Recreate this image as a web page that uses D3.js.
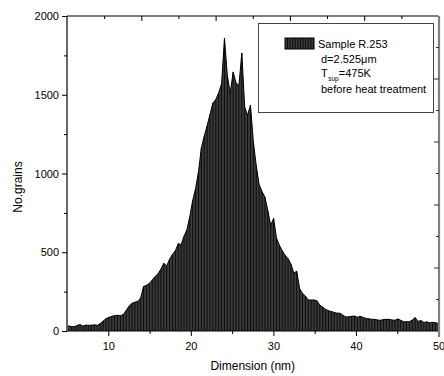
<!DOCTYPE html>
<html>
<head>
<meta charset="utf-8">
<script src="https://cdn.jsdelivr.net/npm/d3@7"></script>
<style>
  body { margin: 0; background: #fff; }
  svg { display: block; font-family: 'Liberation Sans', Arial, sans-serif; }
</style>
</head>
<body>
<div id="chart"></div>
<script>
// histogram bins (nm)
const binStart = 5;
const binWidth = 0.35;
const counts = [
  33, 28, 27, 35, 41, 31, 37, 36, 37, 39,
  36, 47, 63, 78, 87, 93, 98, 100, 97, 105,
  131, 158, 176, 183, 188, 210, 283, 290, 302, 324,
  346, 363, 393, 430, 413, 456, 486, 509, 555, 548,
  602, 643, 726, 829, 905, 1010, 1163, 1237, 1304, 1376,
  1448, 1470, 1513, 1570, 1860, 1620, 1510, 1645, 1575, 1560,
  1765, 1420, 1370, 1435, 1200, 1050, 930, 885, 850, 765,
  670, 716, 590, 545, 510, 480, 460, 425, 368, 380,
  270, 239, 222, 197, 197, 197, 192, 164, 152, 137,
  129, 124, 118, 113, 113, 100, 89, 90, 93, 95,
  87, 93, 86, 80, 77, 74, 74, 70, 68, 73,
  74, 74, 70, 68, 77, 68, 59, 59, 59, 70,
  85, 61, 66, 54, 58, 52, 55, 53, 48
];
const xDomain = [5, 50];
const yDomain = [0, 2000];
const xTicks = [10, 20, 30, 40, 50];
const xMinorTicks = [15, 25, 35, 45];
const yTicks = [0, 500, 1000, 1500, 2000];
const yMinorTicks = [250, 750, 1250, 1750];
const legendLines = ['Sample R.253', 'd=2.525\u03bcm', 'T', 'before heat treatment'];

const width = 444, height = 376;
const plot = { left: 67, right: 438.5, top: 16, bottom: 331 };

const svg = d3.select('#chart').append('svg')
  .attr('width', width)
  .attr('height', height);

const x = d3.scaleLinear().domain(xDomain).range([plot.left, plot.right]);
const y = d3.scaleLinear().domain(yDomain).range([plot.bottom, plot.top]);

const points = counts.map((c, i) => ({ d: binStart + (i + 0.5) * binWidth, c: c }));

svg.append('clipPath').attr('id', 'clip')
  .append('rect')
  .attr('x', plot.left).attr('y', plot.top - 5)
  .attr('width', plot.right - plot.left).attr('height', plot.bottom - plot.top + 5);

const g = svg.append('g').attr('clip-path', 'url(#clip)');

// filled area
const area = d3.area()
  .x(d => x(d.d))
  .y0(y(0))
  .y1(d => y(d.c));

g.append('path')
  .datum(points)
  .attr('d', area)
  .attr('fill', '#3a3a3a');

// drop lines
g.selectAll('.drop')
  .data(points)
  .enter()
  .append('line')
  .attr('class', 'drop')
  .attr('x1', d => x(d.d)).attr('x2', d => x(d.d))
  .attr('y1', y(0)).attr('y2', d => y(d.c))
  .attr('stroke', '#000')
  .attr('stroke-width', 0.8);

g.append('path')
  .datum(points)
  .attr('d', d3.line().x(d => x(d.d)).y(d => y(d.c)))
  .attr('fill', 'none')
  .attr('stroke', '#000')
  .attr('stroke-width', 1);

// axes
function styleAxis(sel) {
  sel.selectAll('.domain').remove();
  sel.selectAll('line').attr('stroke', '#000').attr('stroke-width', 1);
  sel.selectAll('text').attr('font-size', '11px').attr('fill', '#000')
    .attr('font-family', "'Liberation Sans', Arial, sans-serif");
}

const xAxis = svg.append('g')
  .attr('transform', `translate(0,${plot.bottom})`)
  .call(d3.axisBottom(x).tickValues(xTicks).tickSize(5).tickPadding(6).tickFormat(d3.format('d')));
styleAxis(xAxis);

const xMinor = svg.append('g')
  .attr('transform', `translate(0,${plot.bottom})`)
  .call(d3.axisBottom(x).tickValues(xMinorTicks).tickSize(3).tickFormat(''));
styleAxis(xMinor);

const yAxis = svg.append('g')
  .attr('transform', `translate(${plot.left},0)`)
  .call(d3.axisLeft(y).tickValues(yTicks).tickSize(5).tickPadding(3).tickFormat(d3.format('d')));
styleAxis(yAxis);

const yMinor = svg.append('g')
  .attr('transform', `translate(${plot.left},0)`)
  .call(d3.axisLeft(y).tickValues(yMinorTicks).tickSize(3).tickFormat(''));
styleAxis(yMinor);

// frame: left, bottom, top
svg.append('line')
  .attr('x1', plot.left).attr('x2', plot.left)
  .attr('y1', plot.top).attr('y2', plot.bottom)
  .attr('stroke', '#000').attr('stroke-width', 1.2);
svg.append('line')
  .attr('x1', plot.left).attr('x2', plot.right)
  .attr('y1', plot.bottom).attr('y2', plot.bottom)
  .attr('stroke', '#000').attr('stroke-width', 1.2);
svg.append('line')
  .attr('x1', plot.left).attr('x2', plot.right)
  .attr('y1', plot.top).attr('y2', plot.top)
  .attr('stroke', '#000').attr('stroke-width', 1.2);

// top axis ticks (inward), its own spacing
const xTop = d3.scaleLinear().domain([0, 5]).range([plot.left, plot.right]);
const topAxis = svg.append('g')
  .attr('transform', `translate(0,${plot.top})`)
  .call(d3.axisTop(xTop).tickValues([1, 2, 3, 4]).tickSize(-5).tickFormat(''));
styleAxis(topAxis);
const topMinor = svg.append('g')
  .attr('transform', `translate(0,${plot.top})`)
  .call(d3.axisTop(xTop).tickValues([0.5, 1.5, 2.5, 3.5, 4.5]).tickSize(-3).tickFormat(''));
styleAxis(topMinor);

// right axis (grey)
const yRight = d3.scaleLinear().domain([0, 10]).range([plot.bottom, plot.top]);
const rightX = plot.right + 0.5;
svg.append('line')
  .attr('x1', rightX).attr('x2', rightX)
  .attr('y1', plot.top).attr('y2', plot.bottom + 6)
  .attr('stroke', '#808080').attr('stroke-width', 2.2);
svg.selectAll('.rtick')
  .data(d3.range(1, 10))
  .enter()
  .append('line')
  .attr('class', 'rtick')
  .attr('x1', d => rightX - (d % 2 === 0 ? 5 : 3))
  .attr('x2', rightX)
  .attr('y1', d => yRight(d)).attr('y2', d => yRight(d))
  .attr('stroke', '#333').attr('stroke-width', 1);

// axis titles
svg.append('text')
  .attr('x', (plot.left + plot.right) / 2)
  .attr('y', 370)
  .attr('text-anchor', 'middle')
  .attr('font-size', '12px')
  .text('Dimension (nm)');

svg.append('text')
  .attr('transform', 'translate(22,187) rotate(-90)')
  .attr('text-anchor', 'middle')
  .attr('font-size', '12px')
  .text('No.grains');

// legend
const legend = svg.append('g');
legend.append('rect')
  .attr('x', 258.5).attr('y', 23.5)
  .attr('width', 175).attr('height', 89)
  .attr('fill', '#fff')
  .attr('stroke', '#444')
  .attr('stroke-width', 1);

legend.append('rect')
  .attr('x', 285).attr('y', 38)
  .attr('width', 29).attr('height', 11)
  .attr('fill', '#3a3a3a')
  .attr('stroke', '#000');
legend.selectAll('.sw')
  .data(d3.range(287.5, 314, 2.6))
  .enter()
  .append('line')
  .attr('x1', d => d).attr('x2', d => d)
  .attr('y1', 38).attr('y2', 49)
  .attr('stroke', '#000').attr('stroke-width', 0.8);

legend.append('text')
  .attr('x', 318).attr('y', 48)
  .attr('font-size', '11px')
  .text(legendLines[0]);
legend.append('text')
  .attr('x', 321).attr('y', 63)
  .attr('font-size', '11px')
  .text(legendLines[1]);
const tLine = legend.append('text')
  .attr('x', 321).attr('y', 77)
  .attr('font-size', '11px');
tLine.append('tspan').text(legendLines[2]);
tLine.append('tspan').attr('font-size', '6.5px').attr('dx', 0.5).attr('dy', 4).text('sup');
tLine.append('tspan').attr('dy', -4).text('=475K');
legend.append('text')
  .attr('x', 321).attr('y', 93)
  .attr('font-size', '11px')
  .text(legendLines[3]);
</script>
</body>
</html>
